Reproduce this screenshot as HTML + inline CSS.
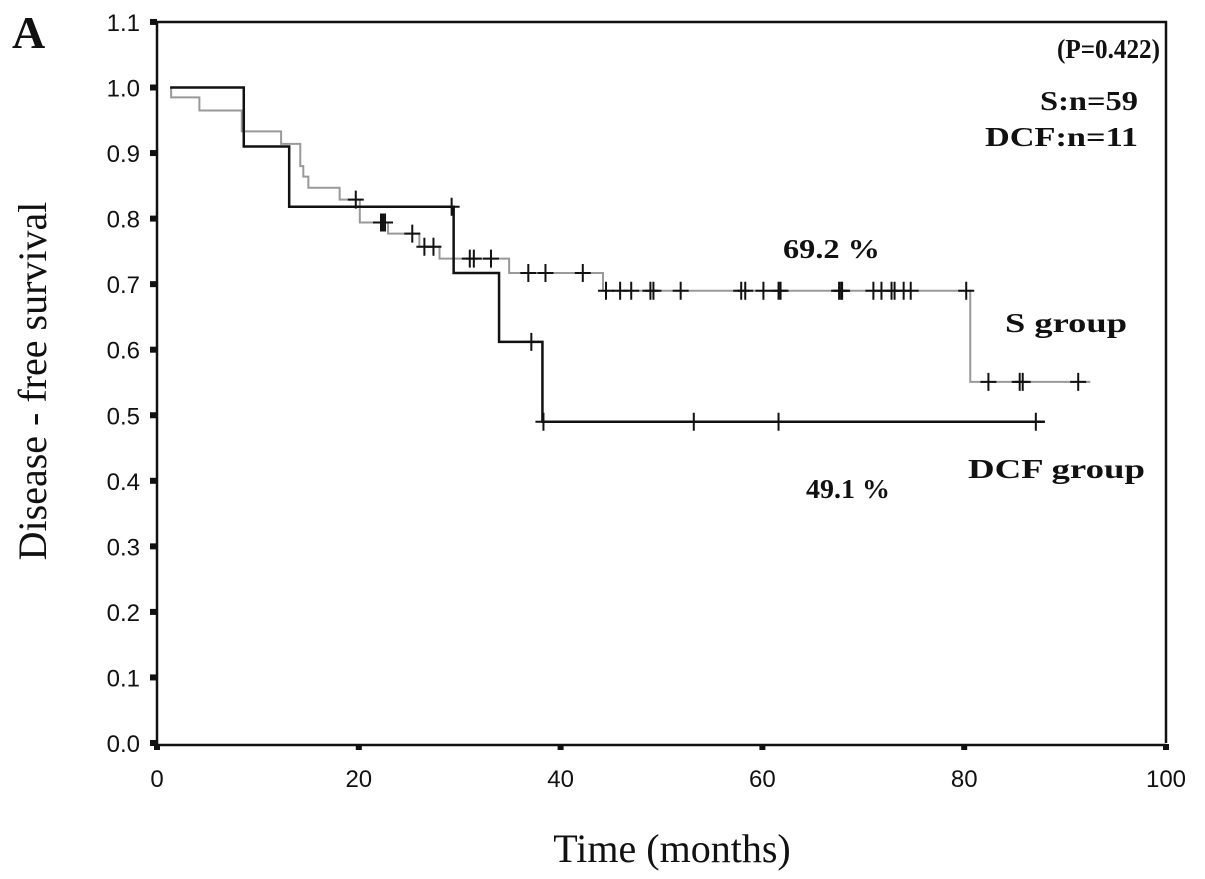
<!DOCTYPE html>
<html><head><meta charset="utf-8"><style>
body{margin:0;background:#fff;}
svg{display:block;}
.tk{font-family:"Liberation Sans",sans-serif;font-size:24px;fill:#111;}
.an{font-family:"Liberation Serif",serif;font-weight:bold;font-size:27px;fill:#111;}
.ti{font-family:"Liberation Serif",serif;font-size:40px;fill:#111;}
</style></head><body>
<svg id="chart" width="1205" height="879" xmlns="http://www.w3.org/2000/svg">
<text x="12" y="48" font-family="Liberation Serif,serif" font-weight="bold" font-size="46" fill="#111">A</text>
<g id="axes"></g>
<g id="series"></g>
<text class="an" x="1057" y="58" font-size="26" textLength="103" lengthAdjust="spacingAndGlyphs">(P=0.422)</text>
<text class="an" x="1040" y="110" font-size="28" textLength="98" lengthAdjust="spacingAndGlyphs">S:n=59</text>
<text class="an" x="985" y="146" font-size="28" textLength="153" lengthAdjust="spacingAndGlyphs">DCF:n=11</text>
<text class="an" x="783" y="258" font-size="28" textLength="97" lengthAdjust="spacingAndGlyphs">69.2 %</text>
<text class="an" x="1005" y="332" font-size="31" textLength="122" lengthAdjust="spacingAndGlyphs">S group</text>
<text class="an" x="968" y="478" font-size="31" textLength="177" lengthAdjust="spacingAndGlyphs">DCF group</text>
<text class="an" x="806" y="498" font-size="27" textLength="84" lengthAdjust="spacingAndGlyphs">49.1 %</text>
<text class="ti" x="672" y="862" text-anchor="middle">Time (months)</text>
<text class="ti" transform="translate(46,381) rotate(-90)" text-anchor="middle">Disease - free survival</text>
</svg>
<script>
const xTicks=[0,20,40,60,80,100];
const yTicks=[0.0,0.1,0.2,0.3,0.4,0.5,0.6,0.7,0.8,0.9,1.0,1.1];
// step curves: [time, survival after]
const dcfTimes=[1.3,8.6,13.1,29.4,33.9,38.2,88.0];
const dcfSurv=[1.0,0.91,0.818,0.717,0.612,0.49,0.49];
const dcfCensor=[29.2,37.1,38.3,53.2,61.6,87.1];
const sTimes=[1.3,1.4,4.2,8.4,12.3,14.2,14.5,15.0,18.1,20.1,22.9,26.0,28.0,34.9,44.2,80.6,92.5];
const sSurv=[1.0,0.985,0.965,0.933,0.914,0.88,0.864,0.847,0.829,0.794,0.777,0.757,0.739,0.717,0.69,0.551,0.551];
const sCensor=[19.7,22.2,22.4,22.6,25.3,26.5,27.4,31.0,31.4,33.1,36.8,38.5,42.2,44.5,45.9,47.0,48.9,49.2,51.9,57.9,58.3,60.1,61.6,61.8,67.6,67.8,67.9,71.0,71.8,72.8,73.1,74.0,74.7,80.2,82.4,85.5,85.8,91.3];
const X=v=>157+v*10.09, Y=v=>743-v*655.5;
const NS='http://www.w3.org/2000/svg';
const ax=document.getElementById('axes'), se=document.getElementById('series');
function mk(p,t,a){const e=document.createElementNS(NS,t);for(const k in a)e.setAttribute(k,a[k]);p.appendChild(e);return e;}
let e=mk(ax,'path',{d:`M157,${Y(1.1)}H1166V${Y(0)}M157,${Y(1.1)}V745H1166`,fill:'none',stroke:'#111','stroke-width':2.5});


yTicks.forEach(v=>{
 const r=mk(ax,'rect',{x:150,y:Y(v)-3,width:7,height:6,fill:'#111'});
 
 
 const t=mk(ax,'text',{x:140,y:Y(v)+9,'text-anchor':'end',class:'tk'});t.textContent=v.toFixed(1);
 
 
});
xTicks.forEach(v=>{
 const r=mk(ax,'rect',{x:X(v)-3,y:744,width:6,height:6,fill:'#111'});
 
 
 const t=mk(ax,'text',{x:X(v),y:787,'text-anchor':'middle',class:'tk'});t.textContent=v;
 
 
});
function stepVal(times,surv,t){let v=surv[0];for(let i=0;i<times.length;i++){if(times[i]<=t)v=surv[i];}return v;}
function draw(times,surv,cens,color,w,name){
 let d=`M${X(times[0])},${Y(surv[0])}`;
 for(let i=1;i<times.length;i++){d+=`H${X(times[i])}V${Y(surv[i])}`;}
 const p=mk(se,'path',{d:d,fill:'none',stroke:color,'stroke-width':w});
 
 
 cens.forEach(c=>{
  const v=stepVal(times,surv,c);
  const m=mk(se,'path',{d:`M${X(c)-8},${Y(v)}H${X(c)+8}M${X(c)},${Y(v)-9}V${Y(v)+9}`,stroke:'#111','stroke-width':2});
  
  
 });
}
draw(sTimes,sSurv,sCensor,'#999',2,'s-group');
draw(dcfTimes,dcfSurv,dcfCensor,'#111',2.5,'dcf-group');
</script>
</body></html>
